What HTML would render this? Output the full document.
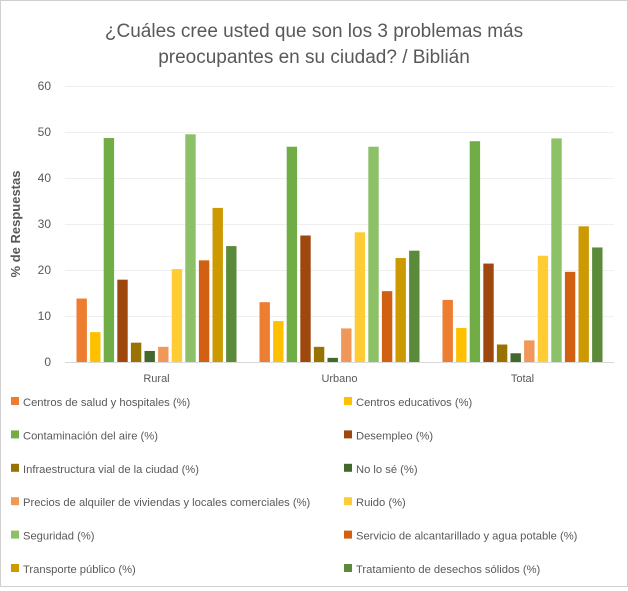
<!DOCTYPE html>
<html><head><meta charset="utf-8"><style>
body{margin:0;background:#fff;}
#wrap{position:relative;width:626px;height:585px;border:1px solid #d0d0d0;background:#fff;font-family:"Liberation Sans",sans-serif;}
svg text{font-family:"Liberation Sans",sans-serif;}
</style></head><body>
<div id="wrap">
<svg id="chart" width="626" height="585"></svg>
</div>
<script>
const categories=["Rural","Urbano","Total"];
const seriesNames=["Centros de salud y hospitales (%)","Centros educativos (%)","Contaminación del aire (%)","Desempleo (%)","Infraestructura vial de la ciudad (%)","No lo sé (%)","Precios de alquiler de viviendas y locales comerciales (%)","Ruido (%)","Seguridad (%)","Servicio de alcantarillado y agua potable (%)","Transporte público (%)","Tratamiento de desechos sólidos (%)"];
const ruralValues=[13.8,6.5,48.7,17.9,4.2,2.4,3.3,20.2,49.5,22.1,33.5,25.2];
const urbanoValues=[13.0,8.9,46.8,27.5,3.3,0.9,7.3,28.2,46.8,15.4,22.6,24.2];
const totalValues=[13.5,7.4,48.0,21.4,3.8,1.9,4.7,23.1,48.6,19.6,29.5,24.9];
const yTicks=[0,10,20,30,40,50,60];
const colors=["#ED7D31","#FFC000","#70AD47","#9E480E","#997300","#43682B","#F1975A","#FFCD33","#8CC168","#D26012","#CC9A00","#5A8A3A"];

const svg=document.getElementById('chart');
const NS="http://www.w3.org/2000/svg";
function mk(t,a,txt){const e=document.createElementNS(NS,t);for(const k in a)e.setAttribute(k,a[k]);if(txt!==undefined)e.textContent=txt;svg.appendChild(e);return e;}
const x0=64,x1=613,yBase=361,yTop=85,yMax=60;
const y=v=>yBase-(v/yMax)*(yBase-yTop);
const groupW=(x1-x0)/categories.length;
const step=13.6,barW=10.4;
const bx=(g,s)=>x0+groupW*(g+0.5)+(s-5.5)*step-barW/2;

let e=mk('text',{x:313,y:36,'text-anchor':'middle','font-size':19,fill:'#595959'},'¿Cuáles cree usted que son los 3 problemas más');

e=mk('text',{x:313,y:62,'text-anchor':'middle','font-size':19,fill:'#595959'},'preocupantes en su ciudad? / Biblián');


yTicks.forEach(t=>{
 const gl=mk('line',{x1:x0,x2:x1,y1:y(t)+0.5,y2:y(t)+0.5,stroke:t===0?'#d9d9d9':'#efefef','stroke-width':1});
 
 
 const l=mk('text',{x:50,y:y(t)+4,'text-anchor':'end','font-size':12,fill:'#595959'},t);
 
 
});
e=mk('text',{x:0,y:0,'text-anchor':'middle','font-size':13,'font-weight':'bold',fill:'#595959',transform:`translate(19,${(yBase+yTop)/2}) rotate(-90)`},'% de Respuestas');


const all=[ruralValues,urbanoValues,totalValues];
all.forEach((vals,g)=>{
 vals.forEach((v,s)=>{
  const r=mk('rect',{x:bx(g,s),y:y(v),width:barW,height:yBase-y(v),fill:colors[s]});
  
  
 });
 const c=mk('text',{x:x0+groupW*(g+0.5),y:381,'text-anchor':'middle','font-size':11,fill:'#595959'},categories[g]);
 
 
});

seriesNames.forEach((n,i)=>{
 const col=i%2,row=Math.floor(i/2);
 const lx=col?343:10, ly=401+row*33.4;
 const sw=mk('rect',{x:lx,y:ly-5,width:8,height:8,fill:colors[i]});
 
 
 const t=mk('text',{x:lx+12,y:ly+4,'font-size':11.2,fill:'#595959'},n);
 
 
});
</script>
</body></html>
